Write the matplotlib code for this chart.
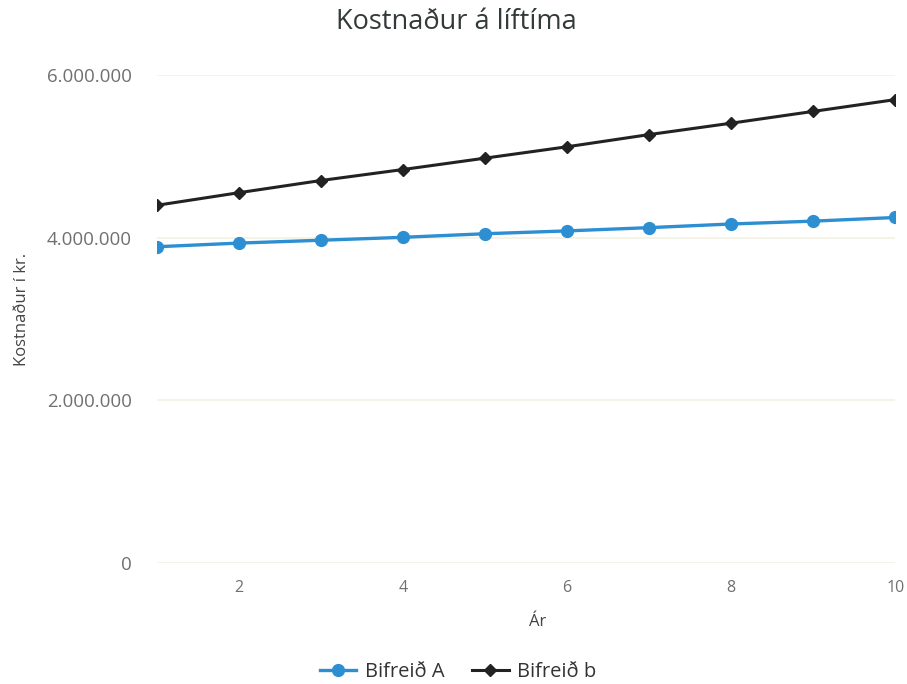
import matplotlib
matplotlib.use("Agg")
import matplotlib.pyplot as plt
from matplotlib.ticker import FuncFormatter

plt.rcParams['font.family'] = ['Open Sans', 'DejaVu Sans']

ar = [1, 2, 3, 4, 5, 6, 7, 8, 9, 10]
bifreid_a = [3890000, 3935000, 3970000, 4006000, 4050000, 4085000, 4125000, 4170000, 4205000, 4250000]
bifreid_b = [4400000, 4555000, 4705000, 4840000, 4980000, 5120000, 5270000, 5410000, 5555000, 5700000]
y_ticks = [0, 2000000, 4000000, 6000000]
x_ticks = [2, 4, 6, 8, 10]

fig = plt.figure(figsize=(9.07, 6.84), dpi=100)
ax = fig.add_axes([0.173, 0.177, 0.814, 0.713])

ax.plot(ar, bifreid_a, color='#2d8fd2', marker='o', markersize=8.5, linewidth=2.4, label='Bifreið A')
ax.plot(ar, bifreid_b, color='#222222', marker='D', markersize=6.5, linewidth=2.2, label='Bifreið b')

ax.set_xlim(1, 10)
ax.set_ylim(0, 6000000)
ax.set_xticks(x_ticks)
ax.set_yticks(y_ticks)
ax.yaxis.set_major_formatter(FuncFormatter(lambda v, p: f"{int(v):,}".replace(",", ".")))

for s in ax.spines.values():
    s.set_visible(False)
ax.grid(axis='y', color='#f2f1e2', linewidth=1.2)
ax.tick_params(axis='both', length=0, labelcolor='#707070')
ax.tick_params(axis='y', pad=18, labelsize=13.5)
ax.tick_params(axis='x', pad=12, labelsize=11.5)

fig.text(0.503, 1 - 22 / 684, "Kostnaður á líftíma", fontsize=19.5, color='#333a3a',
         ha='center', va='center')
ax.set_xlabel("Ár", fontsize=12, color='#444444')
ax.xaxis.set_label_coords(0.516, -0.105)
ax.set_ylabel("Kostnaður í kr.", fontsize=12, color='#444444')
ax.yaxis.set_label_coords(-0.172, 0.52)

fig.legend(loc='center', bbox_to_anchor=(0.505, 1 - 672 / 684), ncol=2, frameon=False,
           fontsize=14.5, handlelength=1.8, handletextpad=0.4, columnspacing=1.4,
           labelcolor='#333333')

fig.savefig("out.png", dpi=100, facecolor='white')
